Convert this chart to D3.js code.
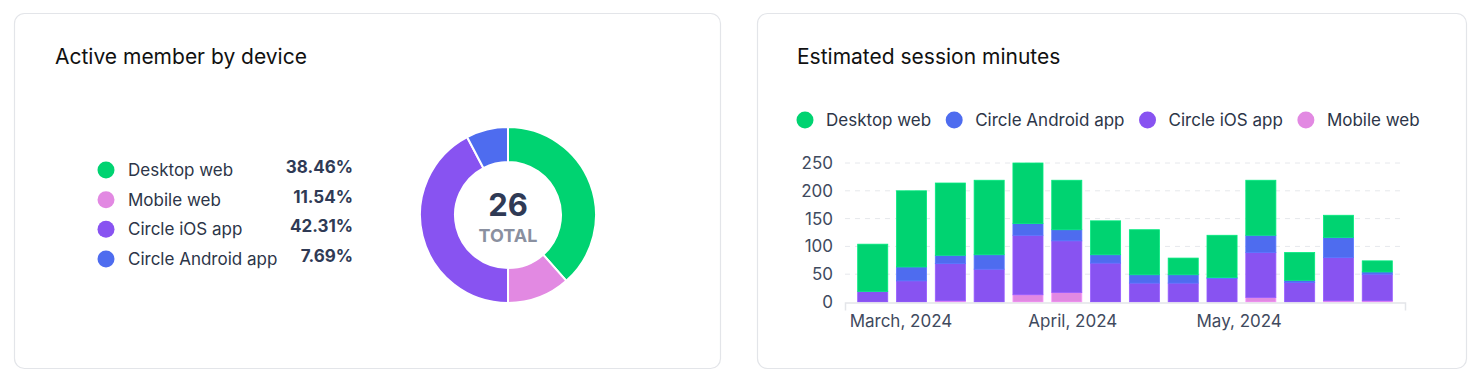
<!DOCTYPE html>
<html>
<head>
<meta charset="utf-8">
<script src="https://cdn.jsdelivr.net/npm/d3@7"></script>
<style>
  html, body { margin: 0; padding: 0; background: #fff; }
  svg { display: block; font-family: Inter, "Noto Sans", sans-serif; }
</style>
</head>
<body>
<div id="chart"></div>
<script>
// device split (active members)
const devices = ["Desktop web", "Mobile web", "Circle iOS app", "Circle Android app"];
const deviceCounts = [10, 3, 11, 2];
const deviceColors = {
  "Desktop web": "#00D371",
  "Mobile web": "#E289E2",
  "Circle iOS app": "#8853F1",
  "Circle Android app": "#4E6CEF"
};

// weekly session minutes
const weeks = ["2024-02-25", "2024-03-03", "2024-03-10", "2024-03-17", "2024-03-24", "2024-03-31", "2024-04-07",
               "2024-04-14", "2024-04-21", "2024-04-28", "2024-05-05", "2024-05-12", "2024-05-19", "2024-05-26"];
const mobileWeb   = [0, 0, 2, 0, 13, 17, 0, 0, 0, 0, 8, 0, 2, 2];
const iosApp      = [19, 38, 67, 59, 107, 93, 70, 34, 34, 42, 81, 35, 78, 48];
const androidApp  = [0, 25, 15, 26, 21, 20, 15, 15, 15, 2, 31, 4, 36, 4];
const desktopWeb  = [85, 137, 130, 134, 109, 89, 61, 81, 30, 76, 99, 50, 40, 20];
const yTicks = [0, 50, 100, 150, 200, 250];
const barLegend = ["Desktop web", "Circle Android app", "Circle iOS app", "Mobile web"];

const W = 1480, H = 382;
const svg = d3.select("#chart").append("svg")
  .attr("width", W).attr("height", H)
  .attr("viewBox", `0 0 ${W} ${H}`);

// cards
[[14.5, 706], [757.5, 709]].forEach(([x, w]) => {
  svg.append("rect")
    .attr("x", x).attr("y", 13.5)
    .attr("width", w).attr("height", 355)
    .attr("rx", 10)
    .attr("fill", "#fff")
    .attr("stroke", "#e3e5e9")
    .attr("stroke-width", 1.2);
});

const titleStyle = sel => sel
  .style("font-size", "21px")
  .style("font-weight", 400)
  .attr("fill", "#111");

svg.append("text").attr("x", 55).attr("y", 64).text("Active member by device").call(titleStyle);
svg.append("text").attr("x", 797).attr("y", 64).text("Estimated session minutes").call(titleStyle);

// ---- donut ----
const total = d3.sum(deviceCounts);
const pieData = devices.map((d, i) => ({ name: d, value: deviceCounts[i] }));

const legendL = svg.append("g").attr("class", "legend-left");
const rowY = d3.scalePoint().domain(devices).range([170, 259]);
pieData.forEach(d => {
  const y = rowY(d.name);
  legendL.append("circle").attr("cx", 106).attr("cy", y).attr("r", 8.5).attr("fill", deviceColors[d.name]);
  legendL.append("text").attr("x", 128).attr("y", y).attr("dy", "0.35em")
    .style("font-size", "17px").attr("fill", "#2c3548").text(d.name);
  legendL.append("text").attr("x", 353).attr("y", y - 3).attr("dy", "0.35em")
    .attr("text-anchor", "end")
    .style("font-size", "17px").style("font-weight", 700).attr("fill", "#2f3a55")
    .text((d.value / total * 100).toFixed(2) + "%");
});

const pie = d3.pie().sort(null).value(d => d.value);
const arc = d3.arc().innerRadius(53).outerRadius(88);
const donut = svg.append("g").attr("transform", "translate(508,215)");
donut.selectAll("path")
  .data(pie(pieData))
  .enter().append("path")
  .attr("d", arc)
  .attr("fill", d => deviceColors[d.data.name])
  .attr("stroke", "#fff")
  .attr("stroke-width", 2);

donut.append("text").attr("y", 1).attr("text-anchor", "middle")
  .style("font-size", "31px").style("font-weight", 700).attr("fill", "#2f3a55")
  .text(total);
donut.append("text").attr("y", 27).attr("text-anchor", "middle")
  .style("font-size", "18px").style("font-weight", 700).attr("fill", "#8a90a0")
  .text("TOTAL");

// ---- stacked bars ----
const parse = d3.timeParse("%Y-%m-%d");
const rows = weeks.map((w, i) => ({
  date: parse(w),
  "Mobile web": mobileWeb[i],
  "Circle iOS app": iosApp[i],
  "Circle Android app": androidApp[i],
  "Desktop web": desktopWeb[i]
}));
const stackKeys = ["Mobile web", "Circle iOS app", "Circle Android app", "Desktop web"];
const series = d3.stack().keys(stackKeys)(rows);

const x = d3.scaleTime()
  .domain([d3.timeDay.offset(rows[0].date, -5), d3.timeDay.offset(rows[rows.length - 1].date, 5)])
  .range([845, 1405]);
const y = d3.scaleLinear().domain([0, 250]).range([302, 163]);
const barW = (x(rows[1].date) - x(rows[0].date)) * 0.775;

// gridlines
svg.append("g").selectAll("line")
  .data(yTicks.filter(t => t > 0))
  .enter().append("line")
  .attr("x1", 845).attr("x2", 1405)
  .attr("y1", d => y(d)).attr("y2", d => y(d))
  .attr("stroke", "#e6e8ec")
  .attr("stroke-dasharray", "5,5");

// y axis labels
const yAxis = svg.append("g")
  .attr("transform", "translate(833,0)")
  .call(d3.axisLeft(y).tickValues(yTicks).tickSize(0).tickPadding(0));
yAxis.select(".domain").remove();
yAxis.selectAll("text")
  .style("font-family", "Inter, 'Noto Sans', sans-serif")
  .style("font-size", "17px")
  .attr("fill", "#3f4a5e");

// bars
const barsG = svg.append("g");
series.forEach(s => {
  barsG.append("g").selectAll("rect")
    .data(s)
    .enter().append("rect")
    .attr("x", d => x(d.data.date) - barW / 2)
    .attr("y", d => y(d[1]))
    .attr("width", barW)
    .attr("height", d => Math.max(0, y(d[0]) - y(d[1])))
    .attr("fill", deviceColors[s.key])
    .attr("stroke", d3.color(deviceColors[s.key]).brighter(0.3))
    .attr("stroke-width", 0.8);
});

// x axis
const xAxis = svg.append("g")
  .attr("transform", "translate(0,302.5)")
  .call(d3.axisBottom(x)
    .ticks(d3.timeMonth.every(1))
    .tickFormat(d3.timeFormat("%B, %Y"))
    .tickSizeInner(0)
    .tickSizeOuter(8)
    .tickPadding(12));
xAxis.select(".domain").attr("stroke", "#e3e5e9").attr("stroke-width", 1.5);
xAxis.selectAll("text")
  .style("font-family", "Inter, 'Noto Sans', sans-serif")
  .style("font-size", "17px")
  .attr("fill", "#3f4a5e");

// bar legend
const legendR = svg.append("g");
let lx = 805;
barLegend.forEach(k => {
  legendR.append("circle").attr("cx", lx).attr("cy", 120).attr("r", 8.5).attr("fill", deviceColors[k]);
  const t = legendR.append("text").attr("x", lx + 21).attr("y", 120).attr("dy", "0.35em")
    .style("font-size", "17px").attr("fill", "#2c3548").text(k);
  lx += 21 + t.node().getComputedTextLength() + 23;
});
</script>
</body>
</html>
